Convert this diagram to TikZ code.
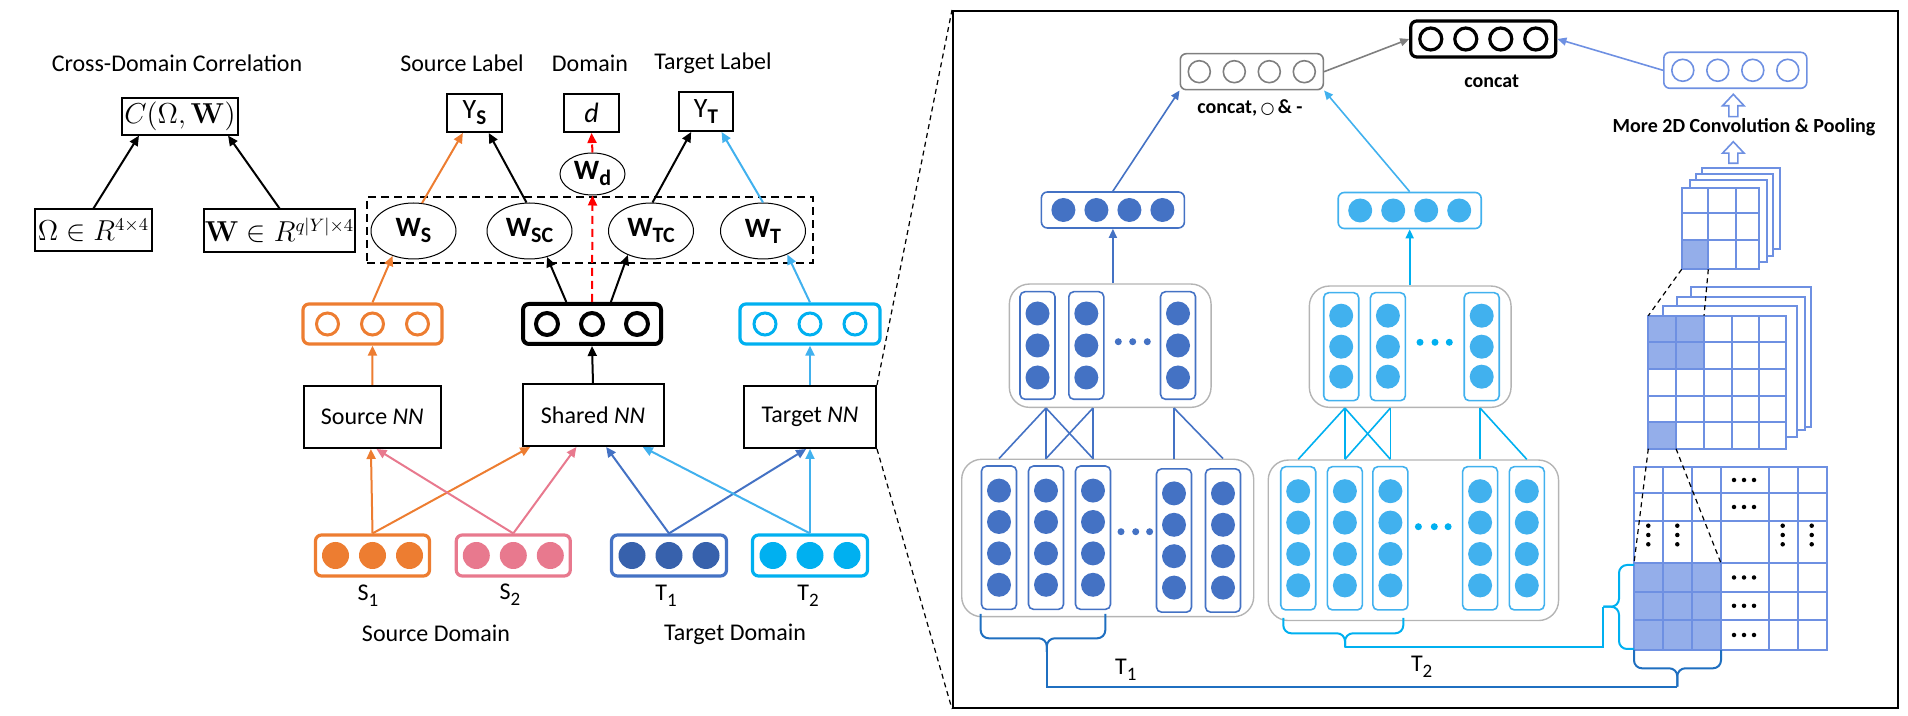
\documentclass[tikz,border=0pt]{standalone}
\usepackage[no-math]{fontspec}
\setmainfont{Carlito}
\newfontfamily\djv{DejaVu Sans}
\usetikzlibrary{arrows.meta,shapes.geometric,calc}
\newdimen\pxu \pxu=0.5pt
\newcommand{\wsub}[1]{\raisebox{-3pt}{\fontsize{11}{11}\selectfont #1}}
\newcommand{\ysub}[1]{\raisebox{-3pt}{\fontsize{10.5}{10.5}\selectfont\bfseries #1}}
\newcommand{\nsub}[1]{\raisebox{-2.8pt}{\fontsize{9.5}{9.5}\selectfont #1}}
\definecolor{cOr}{HTML}{ED7D31}
\definecolor{cPk}{HTML}{E8798E}
\definecolor{cTf}{HTML}{3761AC}
\definecolor{cDb}{HTML}{4472C4}
\definecolor{cCy}{HTML}{00B0F0}
\definecolor{cLb}{HTML}{41B1EE}
\definecolor{cGr}{HTML}{7F7F7F}
\definecolor{cGb}{HTML}{B4B4B4}
\definecolor{cCf}{HTML}{6E90E2}
\definecolor{cCfF}{HTML}{94AEEA}
\definecolor{cBr}{HTML}{1F6FC0}
\begin{document}
\begin{tikzpicture}[x=0.5pt,y=-0.5pt,
  txt/.style={font=\fontsize{12}{14}\selectfont, inner sep=0},
  mbox/.style={draw, line width=0.6pt, inner sep=0, font=\fontsize{13.5}{15}\selectfont},
  bbox/.style={draw, line width=1pt, inner sep=0, font=\fontsize{12}{14}\selectfont},
  wel/.style={draw, ellipse, line width=0.5pt, minimum width=85\pxu, minimum height=56\pxu, inner sep=0, font=\fontsize{14}{16}\selectfont\bfseries},
  arr/.style={line width=1pt, -{Triangle[length=5pt,width=4.5pt]}},
  rarr/.style={line width=0.8pt, -{Triangle[length=4.5pt,width=4pt]}},
  lay/.style={draw, rounded corners=3pt, line width=1.6pt, minimum height=40\pxu, inner sep=0},
  hcirc/.style={circle, draw, line width=1.5pt, minimum size=22\pxu, inner sep=0},
  fcirc/.style={circle, minimum size=27\pxu, inner sep=0},
  rlay/.style={draw, rounded corners=3pt, line width=0.8pt, minimum height=36\pxu, minimum width=143\pxu, inner sep=0},
  rhc/.style={circle, draw, line width=0.8pt, minimum size=22\pxu, inner sep=0},
  rfc/.style={circle, minimum size=24\pxu, inner sep=0},
  grp/.style={draw=cGb, line width=0.7pt, rounded corners=10pt, inner sep=0},
  colb/.style={draw, rounded corners=2.5pt, line width=0.8pt, minimum width=35\pxu, inner sep=0},
  dotn/.style={circle, minimum size=7\pxu, inner sep=0},
  mdot/.style={circle, fill=black, minimum size=4.5\pxu, inner sep=0},
  cgrid/.style={draw=cCf, line width=1pt},
  bcap/.style={font=\fontsize{10}{12}\selectfont\bfseries, inner sep=0},
  dsh/.style={dashed, dash pattern=on 2.5pt off 2pt, line width=0.6pt}
]
\useasboundingbox (0,0) rectangle (1908,716);

% ---------------- left part ----------------
\node[txt] (cdc) at (177,63) {Cross-Domain Correlation};
\node[txt] (sl) at (462,63) {Source Label};
\node[txt] (dl) at (590,63) {Domain};
\node[txt] (tl) at (713,63) {Target Label};

\node[mbox, minimum width=116\pxu, minimum height=37\pxu] (cf) at (180,116.5) {$C(\Omega,\mathbf{W})$};
\node[mbox, minimum width=117\pxu, minimum height=42\pxu] (om) at (93.5,230) {$\Omega\in R^{4\times 4}$};
\node[mbox, minimum width=151\pxu, minimum height=43\pxu] (wm) at (279.5,230.5) {$\mathbf{W}\in R^{q|Y|\times 4}$};
\draw[arr] (om.north) -- ($(cf.south west)!0.15!(cf.south east)$);
\draw[arr] (wm.north) -- ($(cf.south west)!0.91!(cf.south east)$);

\node[bbox, minimum width=55\pxu, minimum height=38\pxu, font=\fontsize{14}{16}\selectfont] (ys) at (474.5,113) {Y\ysub{S}};
\node[bbox, minimum width=55\pxu, minimum height=38\pxu, font=\fontsize{14}{16}\selectfont] (dd) at (591.5,113) {\textit{d}};
\node[bbox, minimum width=54\pxu, minimum height=39\pxu, font=\fontsize{14}{16}\selectfont] (yt) at (706,111.5) {Y\ysub{T}};

\node[wel, minimum width=65\pxu, minimum height=42\pxu] (wd) at (592.5,174) {W\wsub{d}};
\node[draw, dashed, dash pattern=on 4pt off 2.5pt, line width=1pt, minimum width=446\pxu, minimum height=66\pxu, inner sep=0] (wgrp) at (590,230) {};
\node[wel] (ws) at (413.5,231) {W\wsub{S}};
\node[wel] (wsc) at (529.5,231) {W\wsub{SC}};
\node[wel] (wtc) at (651,231) {W\wsub{TC}};
\node[wel] (wt) at (763,231) {W\wsub{T}};

% hollow layers
\node[lay, draw=cOr, minimum width=139\pxu] (ho) at (372.5,324) {};
\node[lay, draw=black, line width=2pt, minimum width=138\pxu] (hs) at (592,324) {};
\node[lay, draw=cCy, minimum width=140\pxu] (ht) at (810,324) {};
\foreach \i/\dx in {1/-45,2/0,3/45}{
  \node[hcirc, draw=cOr] (ho\i) at ($(ho)+(\dx,0)$) {};
  \node[hcirc, draw=black, line width=2pt] (hs\i) at ($(hs)+(\dx,0)$) {};
  \node[hcirc, draw=cCy] (ht\i) at ($(ht)+(\dx,0)$) {};
}

% NN boxes
\node[bbox, minimum width=137\pxu, minimum height=62\pxu] (snn) at (372.3,417) {Source \textit{NN}};
\node[bbox, minimum width=141\pxu, minimum height=62\pxu] (shnn) at (593,415) {Shared \textit{NN}};
\node[bbox, minimum width=132\pxu, minimum height=62\pxu] (tnn) at (810,417) {Target \textit{NN}};

% filled input layers
\node[lay, draw=cOr, minimum width=114\pxu, minimum height=41\pxu] (s1) at (372.5,555.5) {};
\node[lay, draw=cPk, minimum width=114\pxu, minimum height=41\pxu] (s2) at (513.3,555.5) {};
\node[lay, draw=cDb, minimum width=115\pxu, minimum height=41\pxu] (t1) at (669,555.5) {};
\node[lay, draw=cCy, minimum width=115\pxu, minimum height=41\pxu] (t2) at (810,555.5) {};
\foreach \i/\dx in {1/-37,2/0,3/37}{
  \node[fcirc, fill=cOr] (s1c\i) at ($(s1)+(\dx,0)$) {};
  \node[fcirc, fill=cPk] (s2c\i) at ($(s2)+(\dx,0)$) {};
  \node[fcirc, fill=cTf] (t1c\i) at ($(t1)+(\dx,0)$) {};
  \node[fcirc, fill=cCy] (t2c\i) at ($(t2)+(\dx,0)$) {};
}
\node[txt] (s1l) at (368,596) {S\nsub{1}};
\node[txt] (s2l) at (510,595) {S\nsub{2}};
\node[txt] (t1l) at (666,596) {T\nsub{1}};
\node[txt] (t2l) at (808,596) {T\nsub{2}};
\node[txt] (sdom) at (436,633) {Source Domain};
\node[txt] (tdom) at (735,634) {Target Domain};

% arrows inputs -> NN
\draw[arr, cOr] (s1.north) -- ($(snn.south west)!0.49!(snn.south east)$);
\draw[arr, cOr] (s1.north) -- ($(shnn.south west)!0.061!(shnn.south east)$);
\draw[arr, cPk] (s2.north) -- ($(snn.south west)!0.53!(snn.south east)$);
\draw[arr, cPk] (s2.north) -- ($(shnn.south west)!0.384!(shnn.south east)$);
\draw[arr, cDb] (t1.north) -- ($(shnn.south west)!0.592!(shnn.south east)$);
\draw[arr, cDb] (t1.north) -- ($(tnn.south west)!0.471!(tnn.south east)$);
\draw[arr, cLb] (t2.north) -- ($(shnn.south west)!0.848!(shnn.south east)$);
\draw[arr, cLb] (t2.north) -- (tnn.south);

% NN -> hidden
\draw[arr, cOr] (snn.north) -- (ho.south);
\draw[arr] (shnn.north) -- (hs.south);
\draw[arr, cLb] (tnn.north) -- (ht.south);

% hidden -> W
\draw[arr, cOr] (ho.north) -- (ws.230);
\draw[arr] ($(hs.north west)!0.319!(hs.north east)$) -- (wsc.304);
\draw[arr] ($(hs.north west)!0.633!(hs.north east)$) -- (wtc.226);
\draw[arr, red, dashed, dash pattern=on 4pt off 2.5pt] (hs.north) -- (wd.south);
\draw[arr, cLb] (ht.north) -- (wt.316);

% W -> labels
\draw[arr, cOr] (ws.73) -- ($(ys.south west)!0.296!(ys.south east)$);
\draw[arr] (wsc.96) -- ($(ys.south west)!0.75!(ys.south east)$);
\draw[arr, red, dashed, dash pattern=on 4pt off 2.5pt] (wd.north) -- (dd.south);
\draw[arr] (wtc.87) -- ($(yt.south west)!0.235!(yt.south east)$);
\draw[arr, cLb] (wt.north) -- ($(yt.south west)!0.778!(yt.south east)$);

% ---------------- right panel ----------------
\node[draw, line width=1pt, minimum width=945\pxu, minimum height=697\pxu, inner sep=0] (big) at (1425.5,359.5) {};
\draw[dsh] (tnn.north east) -- (big.north west);
\draw[dsh] (tnn.south east) -- (big.south west);

% top layers
\node[rlay, draw=cGr] (gl) at (1251.8,71.7) {};
\node[rlay, draw=black, line width=1.6pt, minimum width=145\pxu] (bl) at (1483.3,39) {};
\node[rlay, draw=cCf] (cl) at (1735.3,70.3) {};
\node[rlay, draw=cDb] (dbl) at (1112.9,210) {};
\node[rlay, draw=cLb] (lbl) at (1409.7,210.5) {};
\foreach \i/\dx in {1/-52.5,2/-17.5,3/17.5,4/52.5}{
  \node[rhc, draw=cGr] (glc\i) at ($(gl)+(\dx,0)$) {};
  \node[rhc, draw=black, line width=1.6pt] (blc\i) at ($(bl)+(\dx,0)$) {};
  \node[rhc, draw=cCf] (clc\i) at ($(cl)+(\dx,0)$) {};
}
\foreach \i/\dx in {1/-49.5,2/-16.5,3/16.5,4/49.5}{
  \node[rfc, fill=cDb] (dblc\i) at ($(dbl)+(\dx,0)$) {};
  \node[rfc, fill=cLb] (lblc\i) at ($(lbl)+(\dx,0)$) {};
}
\node[bcap] (gcap) at (1250,108) {concat,\,{\djv\fontsize{8}{8}\selectfont ○}\,\& -};
\node[bcap] (bcapn) at (1491.7,81.7) {concat};
\node[bcap] (more) at (1744,126.7) {More 2D Convolution \& Pooling};

% hollow block arrows
\foreach \yt/\yb in {94.3/116.7, 141.7/163.3}{
  \pgfmathsetmacro{\ym}{\yt+11.5}
  \draw[draw=cCf, line width=0.8pt, fill=white] (1733.3,\yt) -- (1744.1,\ym) -- (1737.8,\ym) -- (1737.8,\yb) -- (1728.8,\yb) -- (1728.8,\ym) -- (1722.5,\ym) -- cycle;
}

\draw[rarr, cDb] (dbl.north) -- (gl.south west);
\draw[rarr, cLb] (lbl.north) -- (gl.south east);
\draw[rarr, cGr] (gl.east) -- (bl.west);
\draw[rarr, cCf] (cl.west) -- (bl.east);

% T1 / T2 groups
\node[grp, minimum width=201.7\pxu, minimum height=123.3\pxu] (t1top) at (1110.2,345.7) {};
\node[grp, minimum width=292\pxu, minimum height=157.4\pxu] (t1bot) at (1107.7,538) {};
\node[grp, minimum width=201.7\pxu, minimum height=121.3\pxu] (t2top) at (1410.2,346.7) {};
\node[grp, minimum width=290.3\pxu, minimum height=160.5\pxu] (t2bot) at (1413.4,540.3) {};

\foreach \n/\x in {1/1037.5,2/1086.3,3/1178}{
  \node[colb, draw=cDb, minimum height=107.6\pxu] (t1a\n) at (\x,345.5) {};
  \foreach \k/\dy in {1/-32,2/0,3/32}
    \node[rfc, fill=cDb] (t1a\n-\k) at ($(t1a\n)+(0,\dy)$) {};
}
\foreach \k/\x in {1/1118.3,2/1132.7,3/1147.3}
  \node[dotn, fill=cDb] (t1ad\k) at (\x,341.7) {};

\foreach \n/\x/\y in {1/999/537.7,2/1046/537.7,3/1093/537.7,4/1174/540.5,5/1223/540.5}{
  \node[colb, draw=cDb, minimum height=143.3\pxu] (t1b\n) at (\x,\y) {};
  \foreach \k/\dy in {1/-47.1,2/-15.7,3/15.7,4/47.1}
    \node[rfc, fill=cDb] (t1b\n-\k) at ($(t1b\n)+(0,\dy)$) {};
}
\foreach \k/\x in {1/1121,2/1135.7,3/1149.6}
  \node[dotn, fill=cDb] (t1bd\k) at (\x,531.7) {};

\foreach \n/\x in {1/1341.2,2/1387.9,3/1481.7}{
  \node[colb, draw=cLb, minimum height=108\pxu] (t2a\n) at (\x,346.7) {};
  \foreach \k/\dy in {1/-31,2/0,3/30}
    \node[rfc, fill=cLb] (t2a\n-\k) at ($(t2a\n)+(0,\dy)$) {};
}
\foreach \k/\x in {1/1420,2/1435,3/1449.3}
  \node[dotn, fill=cCy] (t2ad\k) at (\x,342.3) {};

\foreach \n/\x in {1/1298.2,2/1344.9,3/1390.4,4/1480.1,5/1526.8}{
  \node[colb, draw=cLb, minimum height=143.3\pxu] (t2b\n) at (\x,538.3) {};
  \foreach \k/\dy in {1/-47.1,2/-15.7,3/15.7,4/47.1}
    \node[rfc, fill=cLb] (t2b\n-\k) at ($(t2b\n)+(0,\dy)$) {};
}
\foreach \k/\x in {1/1418.4,2/1434.3,3/1448.1}
  \node[dotn, fill=cCy] (t2bd\k) at (\x,526.7) {};

% connections between groups
\foreach \a/\b in {2/1,2/2,2/3,3/2,3/3,4/4,4/5}{
  \draw[cDb, line width=0.8pt] (t1top.south -| t1b\a) -- (t1bot.north -| t1b\b);
  \draw[cCy, line width=0.8pt] (t2top.south -| t2b\a) -- (t2bot.north -| t2b\b);
}
\draw[rarr, cDb] (t1top.north -| dbl.south) -- (dbl.south);
\draw[rarr, cCy] (t2top.north -| lbl.south) -- (lbl.south);

% ---- conv stacks ----
\foreach \l/\r/\t/\b in {1702.3/1780/168/249.3, 1696/1773.3/174/255.7, 1690/1766.7/180/261.7}
  \draw[cgrid, fill=white] (\l,\t) rectangle (\r,\b);
\fill[white] (1681.7,187.7) rectangle (1759.3,269.3);
\fill[cCfF] (1681.7,240) rectangle (1708.3,269.3);
\draw[cgrid] (1681.7,187.7) rectangle (1759.3,269.3);
\foreach \x in {1708.3,1735.7} \draw[cgrid] (\x,187.7) -- (\x,269.3);
\foreach \y in {213.3,240} \draw[cgrid] (1681.7,\y) -- (1759.3,\y);

\foreach \l/\r/\t/\b in {1691/1811/286.7/426.7, 1676.7/1804.7/296.7/430, 1662.7/1797.3/306/436.7}
  \draw[cgrid, fill=white] (\l,\t) rectangle (\r,\b);
\fill[white] (1648.3,315.7) rectangle (1786,448.7);
\fill[cCfF] (1648.3,315.7) rectangle (1704,369);
\fill[cCfF] (1648.3,422.3) rectangle (1676,448.7);
\draw[cgrid] (1648.3,315.7) rectangle (1786,448.7);
\foreach \x in {1676,1704,1731.7,1759.3} \draw[cgrid] (\x,315.7) -- (\x,448.7);
\foreach \y in {342.3,369,395.7,422.3} \draw[cgrid] (1648.3,\y) -- (1786,\y);

\fill[cCfF] (1634,563.3) rectangle (1721,650);
\draw[cgrid] (1634,466.7) rectangle (1827.3,650);
\foreach \x in {1663.3,1691.7,1721,1769,1798.3} \draw[cgrid] (\x,466.7) -- (\x,650);
\foreach \y in {493.3,520.7,563.3,591.7,620} \draw[cgrid] (1634,\y) -- (1827.3,\y);
\foreach \y [count=\r] in {480,507,577.5,605.8,635}
  \foreach \dx [count=\c] in {-10,0,10}
    \node[mdot] (hd\r-\c) at (1744+\dx,\y) {};
\foreach \x [count=\r] in {1648.3,1677.3,1782.7,1811.7}
  \foreach \y [count=\c] in {525.7,535,544.3}
    \node[mdot] (vd\r-\c) at (\x,\y) {};

\coordinate (aBL) at (1681.7,269.3);
\coordinate (aBR) at (1708.3,269.3);
\coordinate (bTL) at (1648.3,315.7);
\coordinate (bT2) at (1704,315.7);
\coordinate (bBL) at (1648.3,448.7);
\coordinate (bB1) at (1676,448.7);
\coordinate (cS1) at (1634,563.3);
\coordinate (cS2) at (1721,563.3);
\draw[dsh] (aBL) -- (bTL);
\draw[dsh] (aBR) -- (bT2);
\draw[dsh] (bBL) -- (cS1);
\draw[dsh] (bB1) -- (cS2);

% ---- braces ----
\draw[cCy, line width=1pt, rounded corners=4pt] (1634,565) -- (1619,565) -- (1619,606.7) -- (1603.3,606.7);
\draw[cCy, line width=1pt, rounded corners=4pt] (1634,649) -- (1619,649) -- (1619,606.7) -- (1603.3,606.7);
\draw[cCy, line width=1pt, rounded corners=4pt] (1283.3,618) -- (1283.3,633.3) -- (1345,633.3) -- (1345,647.3);
\draw[cCy, line width=1pt, rounded corners=4pt] (1403.3,618) -- (1403.3,633.3) -- (1345,633.3) -- (1345,647.3);
\draw[cCy, line width=1pt] (1603.3,606.7) -- (1603.3,647.3) -- (1345,647.3);

\draw[cBr, line width=1pt, rounded corners=4pt] (1634,650) -- (1634,668.3) -- (1677.3,668.3) -- (1677.3,686.7);
\draw[cBr, line width=1pt, rounded corners=4pt] (1721,650) -- (1721,668.3) -- (1677.3,668.3) -- (1677.3,686.7);
\draw[cBr, line width=1pt, rounded corners=4pt] (980.7,614) -- (980.7,638.3) -- (1046.8,638.3) -- (1046.8,652);
\draw[cBr, line width=1pt, rounded corners=4pt] (1105.3,614) -- (1105.3,638.3) -- (1046.8,638.3) -- (1046.8,652);
\draw[cBr, line width=1pt] (1677.3,686.7) -- (1046.8,686.7) -- (1046.8,650);

\node[txt] (t1lab) at (1125.8,670) {T\nsub{1}};
\node[txt] (t2lab) at (1421.7,666.7) {T\nsub{2}};
\end{tikzpicture}
\end{document}
